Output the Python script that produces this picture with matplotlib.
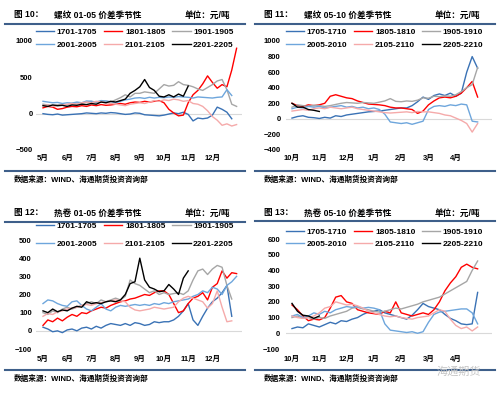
import numpy as np
import matplotlib
matplotlib.use("Agg")
import matplotlib.pyplot as plt
from matplotlib.lines import Line2D

plt.rcParams['font.family'] = ['Liberation Sans', 'Noto Sans CJK SC']
plt.rcParams['font.weight'] = 'bold'

W, H = 500, 394

# month index grids (0 = first month shown, step ~ 6 trading days)
M8 = [0.0, 0.2, 0.4, 0.6, 0.8, 1.0, 1.2, 1.4, 1.6, 1.8, 2.0, 2.2, 2.4, 2.6, 2.8, 3.0, 3.2, 3.4, 3.6, 3.8,
      4.0, 4.2, 4.4, 4.6, 4.8, 5.0, 5.2, 5.4, 5.6, 5.8, 6.0, 6.2, 6.4, 6.6, 6.8, 7.0, 7.2, 7.4, 7.6, 7.8, 8.0]
M7 = [0.0, 0.2, 0.4, 0.6, 0.8, 1.0, 1.2, 1.4, 1.6, 1.8, 2.0, 2.2, 2.4, 2.6, 2.8, 3.0, 3.2, 3.4, 3.6, 3.8,
      4.0, 4.2, 4.4, 4.6, 4.8, 5.0, 5.2, 5.4, 5.6, 5.8, 6.0, 6.2, 6.4, 6.6, 6.8]
N = None

MONTHS_A = ["5月", "6月", "7月", "8月", "9月", "10月", "11月", "12月"]
MONTHS_B = ["10月", "11月", "12月", "1月", "2月", "3月", "4月"]
LEG_A = ["1701-1705", "1801-1805", "1901-1905", "2001-2005", "2101-2105", "2201-2205"]
LEG_B = ["1705-1710", "1805-1810", "1905-1910", "2005-2010", "2105-2110", "2205-2210"]
COLORS = ["#3A72B5", "#FF0000", "#A6A6A6", "#6EA6DC", "#F5AAAA", "#000000"]

# 图10 螺纹 01-05
rb15_17 = [0, -10, -15, -5, -20, -15, -10, -5, 0, 10, 5, 0, 10, 5, 15, 10, 0, -10, -5, 10,
           5, -15, -20, -25, -30, -20, -5, 10, 0, 20, -10, -100, -60, -70, -60, -20, 90, 60, 20, -70, N]
rb15_18 = [80, 100, 90, 60, 70, 90, 100, 95, 110, 100, 120, 110, 125, 115, 120, 130, 140, 130, 150, 160,
           155, 170, 160, 170, 180, 150, 60, 10, -30, -20, 150, 260, 320, 410, 520, 430, 350, 400, 370, 600, 900]
rb15_19 = [130, 120, 110, 120, 130, 120, 140, 150, 140, 160, 170, 150, 160, 170, 160, 190, 220, 260, 230, 280,
           280, 300, 290, 280, 340, 400, 380, 390, 440, 400, 390, 370, 340, 320, 360, 400, 450, 470, 330, 130, 100]
rb15_20 = [170, 160, 150, 155, 140, 150, 145, 160, 150, 175, 170, 160, 180, 175, 165, 150, 170, 190, 200, 215,
           220, 210, 225, 215, 225, 220, 230, 225, 235, 230, 225, 215, 230, 225, 220, 215, 225, 230, 330, 250, N]
rb15_21 = [110, 120, 100, 110, 120, 130, 140, 130, 150, 160, 150, 170, 160, 150, 140, 130, 120, 110, 130, 140,
           150, 140, 160, 180, 170, 190, 180, 200, 190, 170, 180, 140, 130, 100, 40, -40, -90, -160, -140, -170, -150]
rb15_22 = [110, 100, 120, 110, 115, 100, 120, 115, 130, 125, 140, 130, 160, 150, 170, 160, 180, 200, 280, 320,
           370, 470, 360, 320, 240, 230, 260, 230, 270, 240, 380, N, N, N, N, N, N, N, N, N, N]

# 图11 螺纹 05-10
rb510_17 = [10, 30, 40, 20, 15, 5, 20, 10, 40, 30, 50, 60, 70, 80, 90, 95, 100, 110, 120, 130,
            140, 140, 170, 220, 280, 250, 300, 320, 300, 330, 290, 330, 600, 800, 650]
rb510_18 = [200, 170, 160, 180, 170, 180, 200, 290, 310, 290, 270, 260, 230, 210, 190, 185, 180, 170, 150, 140,
            140, 130, 120, 70, 100, 180, 230, 270, 280, 270, 290, 330, 400, 480, 280]
rb510_19 = [150, 180, 170, 160, 175, 170, 160, 170, 185, 200, 210, 205, 200, 210, 205, 200, 215, 230, 260, 225,
            220, 230, 225, 240, 270, 265, 290, 285, 295, 290, 310, 350, 400, 440, 660]
rb510_20 = [130, 150, 140, 160, 150, 160, 140, 150, 160, 170, 150, 160, 140, 150, 130, 140, 120, 60, -40, -50,
            -60, -50, -70, -50, -30, 120, 160, 170, 160, 180, 170, 190, 180, -30, -40]
rb510_21 = [100, 110, 120, 110, 130, 140, 130, 150, 140, 130, 140, 150, 130, 120, 110, 100, 90, 80, 75, 80,
            85, 90, 80, 95, 90, 90, 80, 70, 50, 40, 10, -20, -60, -170, -60]
rb510_22 = [200, 150, 150, 120, 110, 95, N, N, N, N, N, N, N, N, N, N, N, N, N, N,
            N, N, N, N, N, N, N, N, N, N, N, N, N, N, N]

# 图12 热卷 01-05
hc15_17 = [20, 10, -5, 0, -10, 5, 10, 0, 15, 20, 10, 25, 15, 30, 40, 35, 30, 40, 30, 45,
           40, 30, 35, 50, 45, 50, 50, 60, 80, 110, 150, 60, 30, 80, 125, 160, 180, 210, 250, 80, N]
hc15_18 = [30, 60, 50, 70, 55, 75, 90, 80, 100, 95, 110, 120, 130, 125, 140, 150, 160, 165, 175, 180,
           190, 200, 195, 210, 220, 220, 200, 150, 100, 110, 150, 180, 190, 210, 170, 240, 260, 330, 290, 320, 315]
hc15_19 = [100, 90, 110, 100, 120, 130, 120, 130, 140, 150, 160, 150, 170, 160, 170, 180, 170, 190, 280, 260,
           250, 230, 210, 220, 200, 210, 200, 205, 210, 200, 220, 280, 330, 340, 310, 340, 360, 350, 250, 175, N]
hc15_20 = [150, 170, 165, 150, 140, 135, 160, 165, 140, 120, 110, 130, 150, 120, 110, 130, 140, 135, 140, 145,
           140, 145, 140, 150, 145, 155, 150, 160, 165, 170, 175, 190, 200, 220, 210, 240, 230, 200, 250, 270, 300]
hc15_21 = [80, 95, 90, 105, 110, 120, 125, 130, 140, 145, 140, 150, 155, 160, 165, 170, 165, 160, 130, 115,
           110, 115, 120, 130, 125, 120, 125, 130, 160, 180, 190, 180, 170, 160, 125, 150, 220, 130, 50, 55, N]
hc15_22 = [110, 100, 120, 105, 115, 110, 125, 135, 130, 160, 150, 155, 150, 160, 165, 160, 170, 200, 260, 270,
           400, 280, 240, 230, 215, 220, 255, 230, 200, 290, 330, N, N, N, N, N, N, N, N, N, N]

# 图13 热卷 05-10
hc510_17 = [30, 40, 35, 60, 50, 40, 55, 70, 60, 80, 75, 90, 100, 120, 135, 140, 150, 130, 120, 110,
            100, 90, 115, 150, 190, 170, 160, 150, 120, 95, 80, 60, 55, 60, 260]
hc510_18 = [180, 150, 110, 80, 90, 85, 100, 160, 230, 240, 200, 190, 150, 140, 130, 125, 120, 140, 130, 200,
            130, 120, 110, 120, 130, 120, 150, 200, 270, 320, 360, 420, 440, 420, 410]
hc510_19 = [100, 110, 95, 100, 90, 100, 95, 110, 120, 130, 140, 160, 165, 155, 150, 140, 135, 140, 150, 160,
            155, 165, 175, 185, 200, 210, 220, 230, 250, 270, 290, 310, 330, 400, 460]
hc510_20 = [110, 120, 100, 110, 130, 120, 140, 130, 150, 160, 170, 165, 170, 160, 165, 160, 150, 60, 20, 15,
            10, 5, 10, 0, 10, 70, 120, 135, 140, 145, 150, 155, 155, 130, 60]
hc510_21 = [110, 100, 95, 100, 110, 130, 160, 170, 200, 190, 180, 185, 175, 160, 140, 130, 120, 110, 105, 110,
            100, 95, 90, 100, 105, 110, 130, 150, 140, 90, 50, 30, 40, 15, 40]
hc510_22 = [190, 140, 115, 110, 95, 110, N, N, N, N, N, N, N, N, N, N, N, N, N, N,
            N, N, N, N, N, N, N, N, N, N, N, N, N, N, N]

panels = [
    dict(ox=0, oy=0, fig="图 10：", title="螺纹 01-05 价差季节性", x=M8, months=MONTHS_A, leg=LEG_A,
         series=[rb15_17, rb15_18, rb15_19, rb15_20, rb15_21, rb15_22],
         rect=(36, 41, 242, 150), m0=43, mpx=24.2, ylim=(-500, 1000), yt=[-500, 0, 500, 1000],
         legy=28, legsp=0.62, xpad=3.4, ypad=2.4, rules=(24, 171), ty=15, sy=180),
    dict(ox=250, oy=0, fig="图 11：", title="螺纹 05-10 价差季节性", x=M7, months=MONTHS_B, leg=LEG_B,
         series=[rb510_17, rb510_18, rb510_19, rb510_20, rb510_21, rb510_22],
         rect=(36, 41, 242, 150), m0=42, mpx=27.3, ylim=(-400, 1000), yt=list(range(-400, 1001, 200)),
         legy=28, legsp=0.62, xpad=3.4, ypad=3.6, rules=(24, 171), ty=15, sy=180),
    dict(ox=0, oy=197, fig="图 12：", title="热卷 01-05 价差季节性", x=M8, months=MONTHS_A, leg=LEG_A,
         series=[hc15_17, hc15_18, hc15_19, hc15_20, hc15_21, hc15_22],
         rect=(36, 43, 242, 152), m0=43, mpx=24.2, ylim=(-100, 500), yt=list(range(-100, 501, 100)),
         legy=25, legsp=1.25, xpad=5.0, ypad=3.0, rules=(25, 173), ty=16, sy=182),
    dict(ox=250, oy=197, fig="图 13：", title="热卷 05-10 价差季节性", x=M7, months=MONTHS_B, leg=LEG_B,
         series=[hc510_17, hc510_18, hc510_19, hc510_20, hc510_21, hc510_22],
         rect=(36, 42, 242, 152), m0=42, mpx=27.3, ylim=(-100, 600), yt=list(range(-100, 601, 100)),
         legy=31, legsp=0.55, xpad=5.0, ypad=4.0, rules=(24, 173), ty=16, sy=182),
]

fig = plt.figure(figsize=(W / 100, H / 100), dpi=100)
fig.patch.set_facecolor("white")

def fx(x): return x / W
def fy(y): return 1 - y / H

for p in panels:
    ox, oy = p["ox"], p["oy"]
    l, t, r, b = p["rect"]
    ax = fig.add_axes([fx(ox + l), fy(oy + b), (r - l) / W, (b - t) / H])
    lines = []
    for vals, col in zip(p["series"], COLORS):
        y = np.array([np.nan if v is None else v for v in vals], dtype=float)
        ln, = ax.plot(p["x"], y, color=col, lw=1.0, solid_joinstyle="round")
        lines.append(ln)
    ax.axhline(0, color="#D9D9D9", lw=0.8, zorder=0)
    ax.set_xlim((l - p["m0"]) / p["mpx"], (r - p["m0"]) / p["mpx"])
    ax.set_ylim(*p["ylim"])
    ax.set_yticks(p["yt"])
    ax.set_xticks(range(len(p["months"])))
    ax.set_xticklabels(p["months"])
    ax.tick_params(axis="x", length=0, pad=p["xpad"], labelsize=5.5)
    ax.tick_params(axis="y", length=0, pad=p["ypad"], labelsize=5.5)
    for sp in ax.spines.values(): sp.set_visible(False)
    ax.patch.set_alpha(0)
    order = [0, 3, 1, 4, 2, 5]
    ax.legend([lines[i] for i in order], [p["leg"][i] for i in order], ncol=3, loc="upper left",
              bbox_to_anchor=(fx(ox + 36), fy(oy + p["legy"])), bbox_transform=fig.transFigure,
              frameon=False, borderpad=0, borderaxespad=0, handlelength=2.2, handletextpad=0.3,
              columnspacing=0.8, labelspacing=p["legsp"], prop={"size": 6, "weight": "bold"})
    # header / footer
    fig.text(fx(ox + 14), fy(oy + p["ty"]), p["fig"], fontsize=6.2, va="center", ha="left")
    fig.text(fx(ox + 54), fy(oy + p["ty"]), p["title"], fontsize=6.2, va="center", ha="left")
    fig.text(fx(ox + 230), fy(oy + p["ty"]), "单位：元/吨", fontsize=6.2, va="center", ha="right")
    for ry in p["rules"]:
        fig.add_artist(Line2D([fx(ox + 5), fx(ox + 245)], [fy(oy + ry), fy(oy + ry)],
                              transform=fig.transFigure, color="#3E5F8A", lw=1.5))
    fig.text(fx(ox + 14), fy(oy + p["sy"]), "数据来源：WIND、海通期货投资咨询部", fontsize=5.5,
             va="center", ha="left")

fig.text(fx(437), fy(372), "海通期货", fontsize=8, color="#C4C4C4", va="center", ha="left", weight="normal")

fig.savefig("out.png", dpi=100)
